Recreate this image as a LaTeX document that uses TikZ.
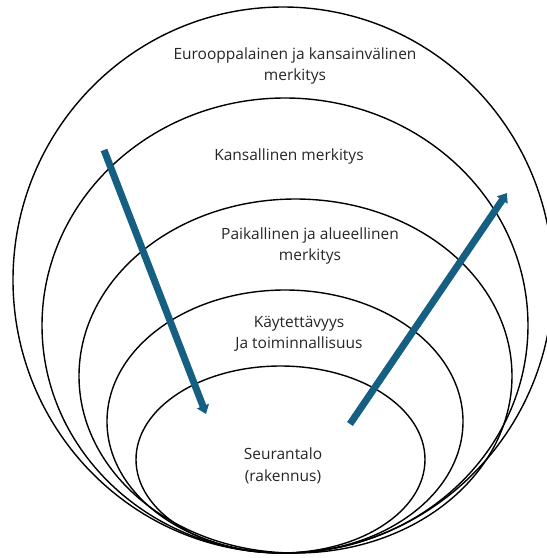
\documentclass[tikz,border=0pt]{standalone}
\usepackage{fontspec}
\setmainfont{Open Sans}
\usetikzlibrary{arrows.meta}
\definecolor{arrowteal}{HTML}{156082}
\definecolor{txt}{HTML}{262626}
\begin{document}
\begin{tikzpicture}[x=1pt,y=-1pt,
  ring/.style={draw=black,line width=1.4pt},
  lbl/.style={text=txt,font=\fontsize{15.5}{21.5}\selectfont,align=center,inner sep=0pt},
  bigarrow/.style={draw=arrowteal,line width=7pt,-{Triangle[width=12.5pt,length=8.5pt]}}]
\useasboundingbox (0,0) rectangle (547,558);
\fill[white] (0,0) rectangle (547,558);
\draw[ring] (283,280) ellipse [x radius=270pt,y radius=273pt];
\draw[ring] (285,325.5) ellipse [x radius=243pt,y radius=227.5pt];
\draw[ring] (295.5,376) ellipse [x radius=216.5pt,y radius=177pt];
\draw[ring] (285,421.5) ellipse [x radius=178pt,y radius=131.5pt];
\draw[ring] (280.5,459.5) ellipse [x radius=144.5pt,y radius=93.5pt];
\node[lbl] (eu) at (295,66) {Eurooppalainen ja kansainvälinen\\merkitys};
\node[lbl] (ka) at (289,156) {Kansallinen merkitys};
\node[lbl] (pa) at (310,246) {Paikallinen ja alueellinen\\merkitys};
\node[lbl] (ky) at (299,334) {Käytettävyys\\Ja toiminnallisuus};
\node[lbl] (se) at (283,466) {Seurantalo\\(rakennus)};
\coordinate (a1s) at (104,150);
\coordinate (a1e) at (206,414);
\coordinate (a2s) at (350,424);
\coordinate (a2e) at (507,193);
\draw[bigarrow] (a1s) -- (a1e);
\draw[bigarrow] (a2s) -- (a2e);
\end{tikzpicture}
\end{document}
